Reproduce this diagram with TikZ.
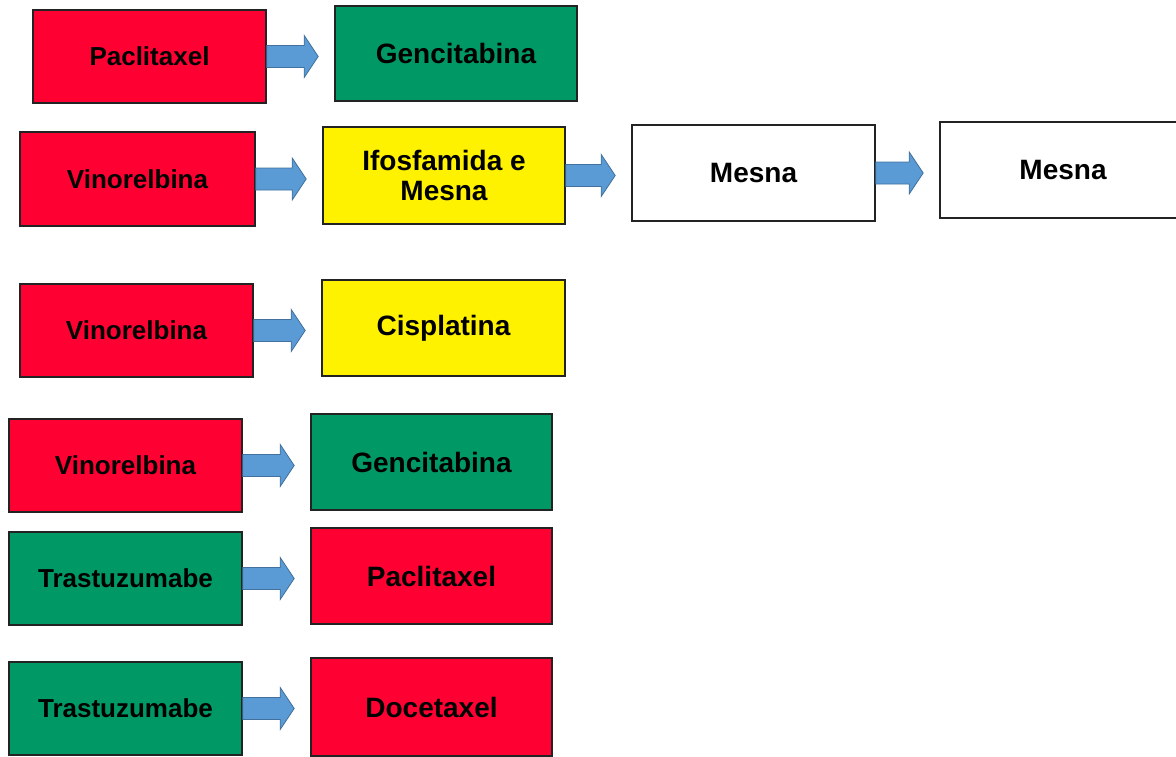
\documentclass[tikz,border=0pt]{standalone}
\usepackage{fontspec}
\setmainfont{Liberation Sans}
\usetikzlibrary{calc}
\definecolor{cred}{RGB}{255,0,51}
\definecolor{cgreen}{RGB}{0,153,102}
\definecolor{cyellow}{RGB}{255,242,0}
\definecolor{afill}{RGB}{91,155,213}
\definecolor{aline}{RGB}{65,113,156}
\definecolor{bline}{RGB}{35,35,35}
\tikzset{
  box/.style={draw=bline, line width=1.6pt, inner sep=0pt, align=center, text=black},
  lbox/.style={box, minimum width=233pt, minimum height=93pt, font=\fontsize{26}{29}\selectfont\bfseries},
  rbox/.style={box, minimum width=242pt, minimum height=96pt, font=\fontsize{28}{30}\selectfont\bfseries},
  flowarrow/.style={draw=aline, fill=afill, line width=0.8pt,
    to path={let \p1=(\tikztostart.east), \p2=(\tikztotarget.west) in
      (\x1,\y1+11pt) -- (\x2-30pt,\y1+11pt) -- (\x2-30pt,\y1+21pt) -- (\x2-16pt,\y1)
      -- (\x2-30pt,\y1-21pt) -- (\x2-30pt,\y1-11pt) -- (\x1,\y1-11pt) -- cycle}}
}
\begin{document}
\begin{tikzpicture}[x=1pt,y=-1pt]
\useasboundingbox (0,0) rectangle (1176,756);
% row 1
\node[lbox, fill=cred] (p1) at (149.5,56.5) {Paclitaxel};
\node[rbox, fill=cgreen, minimum height=95pt] (g1) at (456,53.5) {Gencitabina};
% row 2
\node[lbox, fill=cred, minimum width=235pt, minimum height=94pt] (v2) at (137.5,179) {Vinorelbina};
\node[rbox, fill=cyellow, minimum height=97pt] (i2) at (444,175.5) {Ifosfamida e\\Mesna};
\node[rbox, fill=white, minimum width=243pt] (m2a) at (753.5,173) {Mesna};
\node[rbox, fill=white, minimum width=246pt] (m2b) at (1063,170) {Mesna};
% row 3
\node[lbox, fill=cred] (v3) at (136.5,330.5) {Vinorelbina};
\node[rbox, fill=cyellow, minimum width=243pt] (c3) at (443.5,328) {Cisplatina};
% row 4
\node[lbox, fill=cred] (v4) at (125.5,465.5) {Vinorelbina};
\node[rbox, fill=cgreen, minimum width=241pt] (g4) at (431.5,462) {Gencitabina};
% row 5
\node[lbox, fill=cgreen] (t5) at (125.5,578.5) {Trastuzumabe};
\node[rbox, fill=cred, minimum width=241pt] (p5) at (431.5,576) {Paclitaxel};
% row 6
\node[lbox, fill=cgreen] (t6) at (125.5,708.5) {Trastuzumabe};
\node[rbox, fill=cred, minimum width=241pt, minimum height=98pt] (d6) at (431.5,707) {Docetaxel};
% arrows
\draw[flowarrow] (p1) to (g1);
\draw[flowarrow] (v2) to (i2);
\draw[flowarrow] (i2) to (m2a);
\draw[flowarrow] (m2a) to (m2b);
\draw[flowarrow] (v3) to (c3);
\draw[flowarrow] (v4) to (g4);
\draw[flowarrow] (t5) to (p5);
\draw[flowarrow] (t6) to (d6);
\end{tikzpicture}
\end{document}
